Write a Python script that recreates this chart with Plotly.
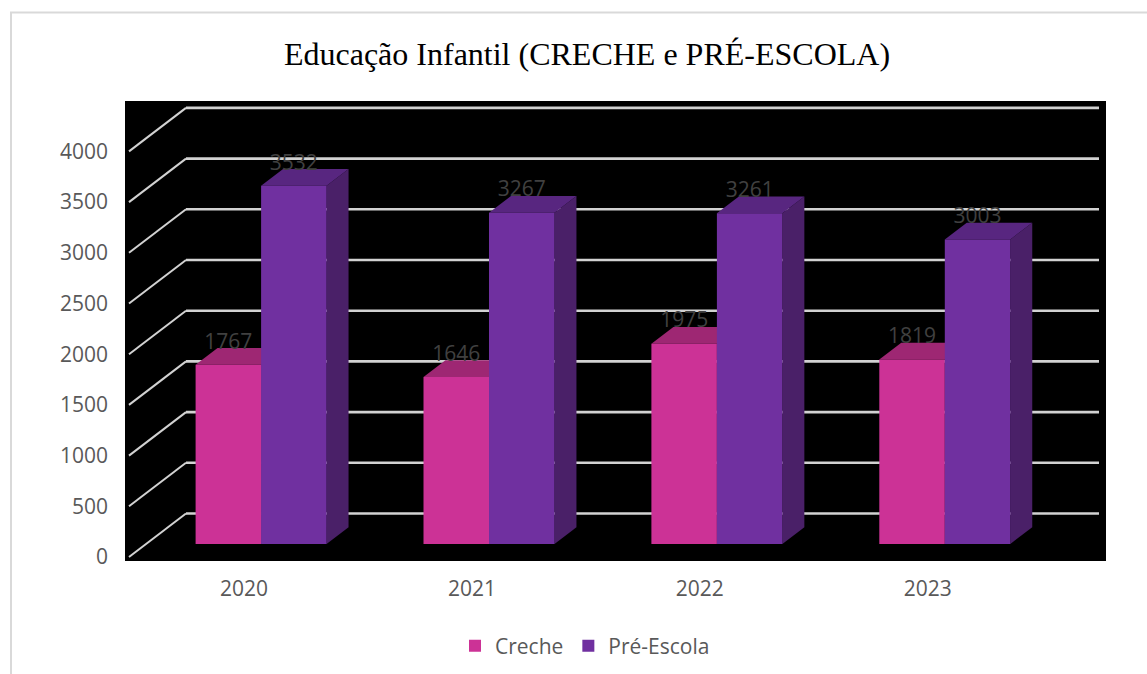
import plotly.graph_objects as go

# ---- data ----
categories = ["2020", "2021", "2022", "2023"]
creche = [1767, 1646, 1975, 1819]
pre_escola = [3532, 3267, 3261, 3003]
y_ticks = [0, 500, 1000, 1500, 2000, 2500, 3000, 3500, 4000]

TITLE = "Educação Infantil (CRECHE e PRÉ-ESCOLA)"
PINK, PINK_TOP = "#CC3296", "#9E2773"
PURPLE, PURPLE_TOP, PURPLE_SIDE = "#7030A0", "#582680", "#4A2068"
GRID = "#D2D2D2"
TICK = "#595959"
LABEL = "#404040"
FONT = "Open Sans"

W, H = 1147, 674
L, R, T, B = 125, 1106, 101, 561   # plot area in the page
CAT_STEP = 227.9                   # px per category
X0_PX = 244                        # category 0 tick
Y0_PX = 557                        # value 0 on the front edge of the wall
PX_PER_UNIT = 0.1014

xu = 1 / CAT_STEP                  # x units per px
yu = 1 / PX_PER_UNIT               # y units per px

# oblique depth of the back wall, in axis units
DX = 57 * xu
DY = 43.5 * yu
# depth span of the bars (0 = front, 1 = back wall)
Z0, Z1 = 0.30, 0.685
BAR_W = 65.5 * xu
WALL_X0 = (129 - X0_PX) * xu
WALL_X1 = (1099 - X0_PX) * xu


def paper_x(px):
    return (px - L) / (R - L)


def paper_y(py):
    return (B - py) / (B - T)


def poly(points, color):
    d = "M" + " L".join(f"{x},{y}" for x, y in points) + " Z"
    return dict(type="path", path=d, xref="x", yref="y", layer="below",
                fillcolor=color, line=dict(width=0))


def box_faces(x_left, value, top_color, side_color):
    """Top and side faces of a bar, projected from its value."""
    base = Z0 * DY
    x_right = x_left + BAR_W
    dx, dy = (Z1 - Z0) * DX, (Z1 - Z0) * DY
    top = [(x_left, base + value), (x_right, base + value),
           (x_right + dx, base + value + dy), (x_left + dx, base + value + dy)]
    side = [(x_right, base), (x_right, base + value),
            (x_right + dx, base + value + dy), (x_right + dx, base + dy)]
    return [poly(side, side_color), poly(top, top_color)]


shapes = [dict(type="rect", xref="paper", yref="paper", layer="below",
               x0=paper_x(11), x1=paper_x(W + 20), y0=paper_y(H + 20), y1=paper_y(12.5),
               line=dict(color="#D9D9D9", width=2), fillcolor="rgba(0,0,0,0)")]

for v in y_ticks:
    shapes.append(dict(type="line", xref="x", yref="y", layer="below",
                       x0=WALL_X0, y0=v, x1=WALL_X0 + DX, y1=v + DY,
                       line=dict(color=GRID, width=2)))
    shapes.append(dict(type="line", xref="x", yref="y", layer="below",
                       x0=WALL_X0 + DX, y0=v + DY, x1=WALL_X1, y1=v + DY,
                       line=dict(color=GRID, width=2.6)))

xs = list(range(len(categories)))
shift = Z0 * DX
for i in xs:
    shapes += box_faces(i + shift - BAR_W, creche[i], PINK_TOP, PINK_TOP)
    shapes += box_faces(i + shift, pre_escola[i], PURPLE_TOP, PURPLE_SIDE)

fig = go.Figure()
fig.add_trace(go.Bar(x=xs, y=creche, base=[Z0 * DY] * len(xs), name="Creche",
                     width=BAR_W, offset=shift - BAR_W,
                     marker=dict(color=PINK, line=dict(width=0))))
fig.add_trace(go.Bar(x=xs, y=pre_escola, base=[Z0 * DY] * len(xs), name="Pré-Escola",
                     width=BAR_W, offset=shift,
                     marker=dict(color=PURPLE, line=dict(width=0))))

LABEL_RISE = 21.5 * yu + Z0 * DY
fig.add_trace(go.Scatter(
    x=[i + shift - BAR_W / 2 for i in xs] + [i + shift + BAR_W / 2 for i in xs],
    y=[v + LABEL_RISE for v in creche] + [v + LABEL_RISE for v in pre_escola],
    text=[str(v) for v in creche] + [str(v) for v in pre_escola],
    mode="text", textposition="middle center",
    textfont=dict(family=FONT, size=21, color=LABEL),
    showlegend=False, hoverinfo="skip"))

fig.update_layout(
    width=W, height=H, autosize=False,
    margin=dict(l=L, r=W - R, t=T, b=H - B, pad=0),
    paper_bgcolor="white", plot_bgcolor="black",
    barmode="overlay",
    title=dict(text=TITLE, x=587 / W, xanchor="center", xref="container",
               y=1 - 54 / H, yanchor="middle", yref="container",
               font=dict(family="Liberation Serif", size=32, color="black")),
    xaxis=dict(range=[(L - X0_PX) * xu, (R - X0_PX) * xu], tickmode="array",
               tickvals=xs, ticktext=categories, showgrid=False, zeroline=False,
               showline=False, ticks="", ticklabelstandoff=13, automargin=False,
               tickfont=dict(family=FONT, size=21, color=TICK)),
    yaxis=dict(range=[(Y0_PX - B) * yu, (Y0_PX - T) * yu], tickmode="array",
               tickvals=y_ticks, ticktext=[str(v) for v in y_ticks],
               showgrid=False, zeroline=False, showline=False, ticks="",
               ticklabelstandoff=16, automargin=False,
               tickfont=dict(family=FONT, size=21, color=TICK)),
    legend=dict(orientation="h", xref="container", yref="container",
                x=455 / W, xanchor="left", y=1 - 646 / H,
                yanchor="middle", font=dict(family=FONT, size=21, color=TICK),
                bgcolor="rgba(0,0,0,0)", itemwidth=30),
    shapes=shapes,
    hovermode=False,
)

fig.write_html("out.html", config={"displayModeBar": False},
               post_script="document.body.style.margin='0';document.documentElement.style.overflow='hidden';")
